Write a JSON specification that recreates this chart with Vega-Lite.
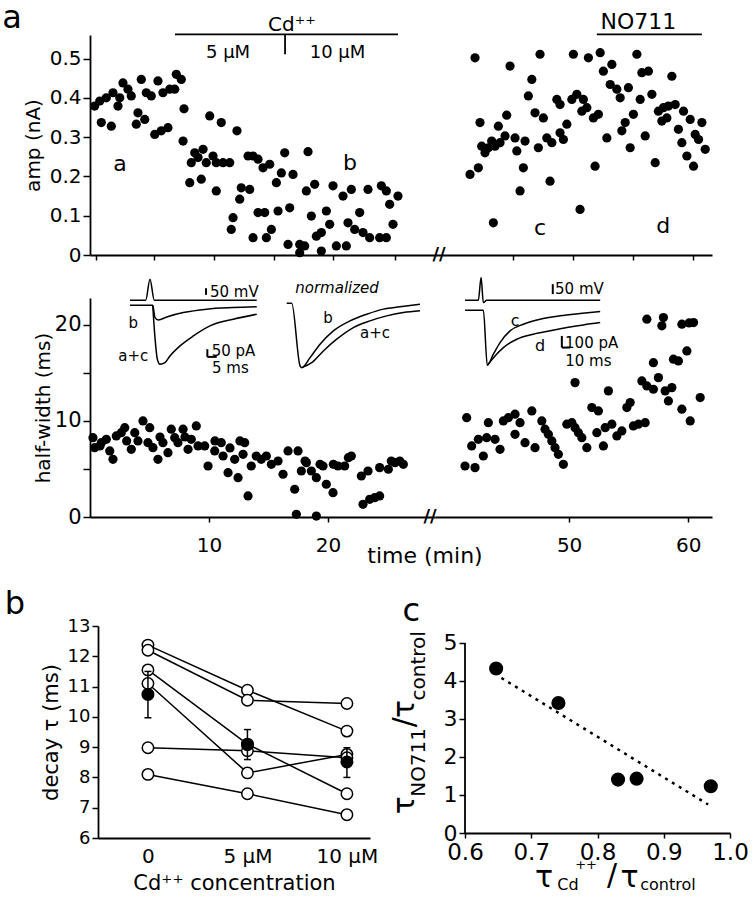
{
  "$schema": "https://vega.github.io/schema/vega-lite/v6.json",
  "background": "white",
  "padding": {"left": 2, "top": 2, "right": 2, "bottom": 2},
  "config": {
    "view": {"stroke": null},
    "font": "DejaVu Sans",
    "axis": {"domainColor": "black", "domainWidth": 1.8, "tickColor": "black", "tickWidth": 1.5, "labelColor": "black", "titleColor": "black", "titleFontWeight": "normal", "grid": false, "labelFont": "DejaVu Sans", "titleFont": "DejaVu Sans", "labelFlush": false, "labelOverlap": false},
    "text": {"font": "DejaVu Sans", "color": "black"}
  },
  "datasets": {
    "ampL": [
      {"t":0.39,"amp":0.379},{"t":0.82,"amp":0.392},{"t":1.37,"amp":0.400},{"t":1.93,"amp":0.413},{"t":2.50,"amp":0.400},{"t":2.77,"amp":0.438},{"t":3.19,"amp":0.422},{"t":3.47,"amp":0.405},{"t":2.35,"amp":0.379},{"t":4.31,"amp":0.447},{"t":4.73,"amp":0.413},{"t":5.15,"amp":0.405},{"t":5.71,"amp":0.443},{"t":6.13,"amp":0.413},{"t":6.70,"amp":0.422},{"t":7.25,"amp":0.460},{"t":7.67,"amp":0.447},{"t":7.12,"amp":0.422},{"t":0.95,"amp":0.337},{"t":1.79,"amp":0.328},{"t":4.03,"amp":0.362},{"t":4.60,"amp":0.345},{"t":3.89,"amp":0.333},{"t":5.44,"amp":0.307},{"t":5.99,"amp":0.316},{"t":6.55,"amp":0.324},{"t":7.90,"amp":0.372},{"t":10.06,"amp":0.354},{"t":11.03,"amp":0.337},{"t":12.35,"amp":0.316},{"t":7.82,"amp":0.290},{"t":8.80,"amp":0.260},{"t":9.50,"amp":0.269},{"t":8.51,"amp":0.235},{"t":9.08,"amp":0.248},{"t":9.77,"amp":0.235},{"t":10.34,"amp":0.252},{"t":10.61,"amp":0.235},{"t":11.18,"amp":0.235},{"t":11.74,"amp":0.235},{"t":8.38,"amp":0.184},{"t":9.35,"amp":0.193},{"t":10.61,"amp":0.163},{"t":12.71,"amp":0.171},{"t":12.58,"amp":0.142},{"t":12.02,"amp":0.095},{"t":11.87,"amp":0.065},{"t":13.28,"amp":0.252},{"t":13.70,"amp":0.252},{"t":14.12,"amp":0.244},{"t":14.54,"amp":0.222},{"t":15.10,"amp":0.231},{"t":16.36,"amp":0.260},{"t":18.32,"amp":0.263},{"t":16.08,"amp":0.209},{"t":17.06,"amp":0.205},{"t":15.66,"amp":0.184},{"t":13.42,"amp":0.167},{"t":18.18,"amp":0.163},{"t":18.88,"amp":0.180},{"t":20.42,"amp":0.176},{"t":21.26,"amp":0.150},{"t":21.96,"amp":0.167},{"t":23.36,"amp":0.167},{"t":24.48,"amp":0.176},{"t":24.90,"amp":0.163},{"t":25.88,"amp":0.150},{"t":25.18,"amp":0.129},{"t":14.12,"amp":0.108},{"t":14.68,"amp":0.108},{"t":15.80,"amp":0.112},{"t":16.78,"amp":0.120},{"t":18.60,"amp":0.099},{"t":19.86,"amp":0.112},{"t":20.14,"amp":0.078},{"t":19.44,"amp":0.057},{"t":19.02,"amp":0.048},{"t":21.68,"amp":0.082},{"t":22.66,"amp":0.108},{"t":22.24,"amp":0.065},{"t":22.94,"amp":0.057},{"t":23.50,"amp":0.044},{"t":24.34,"amp":0.044},{"t":24.90,"amp":0.044},{"t":25.46,"amp":0.078},{"t":13.70,"amp":0.044},{"t":15.24,"amp":0.065},{"t":14.82,"amp":0.044},{"t":16.64,"amp":0.027},{"t":17.62,"amp":0.027},{"t":18.04,"amp":0.023},{"t":17.62,"amp":0.006},{"t":19.44,"amp":0.010},{"t":20.70,"amp":0.023},{"t":21.54,"amp":0.023}
    ],
    "ampR": [
      {"t":41.68,"amp":0.205},{"t":42.10,"amp":0.502},{"t":42.38,"amp":0.222},{"t":42.52,"amp":0.337},{"t":42.66,"amp":0.277},{"t":42.94,"amp":0.260},{"t":43.22,"amp":0.273},{"t":43.50,"amp":0.290},{"t":43.64,"amp":0.082},{"t":43.78,"amp":0.277},{"t":44.06,"amp":0.328},{"t":44.20,"amp":0.286},{"t":44.62,"amp":0.303},{"t":44.76,"amp":0.356},{"t":45.04,"amp":0.481},{"t":45.46,"amp":0.298},{"t":45.61,"amp":0.265},{"t":45.88,"amp":0.163},{"t":46.16,"amp":0.222},{"t":46.30,"amp":0.290},{"t":46.58,"amp":0.405},{"t":46.87,"amp":0.447},{"t":47.14,"amp":0.362},{"t":47.42,"amp":0.273},{"t":47.56,"amp":0.511},{"t":47.84,"amp":0.349},{"t":48.13,"amp":0.298},{"t":48.40,"amp":0.188},{"t":48.55,"amp":0.286},{"t":48.97,"amp":0.396},{"t":49.24,"amp":0.383},{"t":49.24,"amp":0.311},{"t":49.52,"amp":0.294},{"t":49.81,"amp":0.333},{"t":50.23,"amp":0.396},{"t":50.36,"amp":0.511},{"t":50.65,"amp":0.409},{"t":50.92,"amp":0.116},{"t":51.07,"amp":0.366},{"t":51.20,"amp":0.396},{"t":51.49,"amp":0.375},{"t":51.62,"amp":0.502},{"t":52.04,"amp":0.349},{"t":52.18,"amp":0.226},{"t":52.46,"amp":0.358},{"t":52.61,"amp":0.515},{"t":52.88,"amp":0.468},{"t":53.17,"amp":0.298},{"t":53.45,"amp":0.434},{"t":53.59,"amp":0.485},{"t":54.01,"amp":0.422},{"t":54.29,"amp":0.400},{"t":54.43,"amp":0.316},{"t":54.71,"amp":0.337},{"t":54.98,"amp":0.426},{"t":55.13,"amp":0.273},{"t":55.40,"amp":0.358},{"t":55.69,"amp":0.511},{"t":55.97,"amp":0.396},{"t":56.11,"amp":0.464},{"t":56.39,"amp":0.303},{"t":56.66,"amp":0.468},{"t":56.95,"amp":0.409},{"t":57.23,"amp":0.235},{"t":57.50,"amp":0.366},{"t":57.79,"amp":0.341},{"t":57.92,"amp":0.375},{"t":58.34,"amp":0.379},{"t":58.21,"amp":0.349},{"t":58.63,"amp":0.455},{"t":58.91,"amp":0.383},{"t":59.18,"amp":0.320},{"t":59.61,"amp":0.366},{"t":59.47,"amp":0.286},{"t":59.89,"amp":0.252},{"t":60.17,"amp":0.345},{"t":60.45,"amp":0.226},{"t":60.59,"amp":0.307},{"t":60.87,"amp":0.294},{"t":61.15,"amp":0.337},{"t":61.43,"amp":0.269}
    ],
    "hwL": [
      {"t":0.25,"hw":8.26},{"t":0.39,"hw":7.22},{"t":0.95,"hw":7.74},{"t":1.37,"hw":8.09},{"t":1.66,"hw":6.88},{"t":1.93,"hw":6.01},{"t":2.21,"hw":8.44},{"t":2.63,"hw":8.78},{"t":2.92,"hw":9.30},{"t":3.47,"hw":7.05},{"t":3.76,"hw":8.78},{"t":4.03,"hw":7.92},{"t":4.45,"hw":10.00},{"t":5.02,"hw":9.30},{"t":4.87,"hw":7.74},{"t":5.29,"hw":7.22},{"t":5.71,"hw":6.01},{"t":6.13,"hw":7.74},{"t":6.55,"hw":6.70},{"t":6.83,"hw":9.14},{"t":7.12,"hw":8.26},{"t":7.39,"hw":7.74},{"t":7.82,"hw":9.14},{"t":8.24,"hw":7.05},{"t":8.51,"hw":8.09},{"t":8.93,"hw":9.48},{"t":9.08,"hw":7.40},{"t":9.64,"hw":7.40},{"t":9.92,"hw":5.31},{"t":10.48,"hw":6.88},{"t":11.03,"hw":7.74},{"t":11.18,"hw":6.35},{"t":11.60,"hw":4.61},{"t":12.16,"hw":6.01},{"t":12.44,"hw":4.09},{"t":13.00,"hw":7.74},{"t":13.28,"hw":2.19},{"t":12.86,"hw":6.53},{"t":13.55,"hw":5.31},{"t":13.97,"hw":6.35},{"t":14.39,"hw":6.01},{"t":14.82,"hw":6.35},{"t":15.24,"hw":5.49},{"t":15.80,"hw":5.83},{"t":16.22,"hw":4.45},{"t":16.64,"hw":6.88},{"t":17.48,"hw":6.88},{"t":17.20,"hw":2.89},{"t":17.76,"hw":4.79},{"t":18.18,"hw":5.66},{"t":18.60,"hw":4.79},{"t":19.02,"hw":4.09},{"t":19.58,"hw":5.31},{"t":19.86,"hw":3.41},{"t":20.42,"hw":2.53},{"t":20.84,"hw":5.31},{"t":21.40,"hw":5.31},{"t":21.96,"hw":6.35},{"t":22.80,"hw":4.27},{"t":23.36,"hw":4.79},{"t":24.34,"hw":5.14},{"t":25.32,"hw":5.83},{"t":26.03,"hw":5.83},{"t":22.94,"hw":1.32},{"t":23.50,"hw":1.84},{"t":23.92,"hw":2.01},{"t":24.34,"hw":2.19},{"t":17.34,"hw":0.28},{"t":19.02,"hw":0.10},{"t":18.07,"hw":5.83},{"t":19.33,"hw":5.49},{"t":20.45,"hw":5.49},{"t":21.71,"hw":6.18},{"t":25.07,"hw":4.97},{"t":25.63,"hw":5.66},{"t":26.33,"hw":5.49},{"t":0.84,"hw":7.40},{"t":3.08,"hw":7.92},{"t":5.88,"hw":8.33},{"t":7.98,"hw":8.33},{"t":10.50,"hw":7.92},{"t":11.76,"hw":7.19},{"t":12.60,"hw":7.92}
    ],
    "hwR": [
      {"t":41.40,"hw":10.34},{"t":41.26,"hw":5.31},{"t":42.10,"hw":5.14},{"t":41.82,"hw":7.40},{"t":42.38,"hw":8.09},{"t":42.80,"hw":6.35},{"t":43.22,"hw":9.82},{"t":43.08,"hw":8.26},{"t":43.78,"hw":8.09},{"t":44.20,"hw":7.05},{"t":44.48,"hw":10.00},{"t":44.90,"hw":10.34},{"t":45.46,"hw":10.70},{"t":45.88,"hw":9.82},{"t":45.46,"hw":8.61},{"t":46.30,"hw":7.74},{"t":46.87,"hw":11.04},{"t":47.14,"hw":7.22},{"t":47.71,"hw":10.00},{"t":47.98,"hw":9.14},{"t":48.26,"hw":8.61},{"t":48.55,"hw":7.92},{"t":48.82,"hw":7.22},{"t":49.10,"hw":6.53},{"t":49.52,"hw":5.49},{"t":49.81,"hw":9.66},{"t":50.23,"hw":9.82},{"t":50.50,"hw":9.30},{"t":50.78,"hw":8.78},{"t":51.07,"hw":8.26},{"t":51.49,"hw":7.22},{"t":50.50,"hw":13.99},{"t":51.91,"hw":11.39},{"t":52.46,"hw":11.04},{"t":52.33,"hw":8.78},{"t":52.88,"hw":7.40},{"t":53.30,"hw":13.13},{"t":53.03,"hw":9.30},{"t":53.59,"hw":9.66},{"t":54.01,"hw":8.44},{"t":54.43,"hw":8.96},{"t":54.85,"hw":11.39},{"t":55.13,"hw":11.91},{"t":55.40,"hw":9.48},{"t":55.82,"hw":9.66},{"t":56.39,"hw":9.82},{"t":56.11,"hw":14.17},{"t":56.53,"hw":13.65},{"t":57.08,"hw":13.30},{"t":57.50,"hw":14.51},{"t":57.08,"hw":16.07},{"t":58.07,"hw":13.13},{"t":58.34,"hw":12.08},{"t":58.63,"hw":13.47},{"t":59.47,"hw":11.22},{"t":60.17,"hw":10.00},{"t":61.01,"hw":12.43},{"t":58.76,"hw":16.43},{"t":59.18,"hw":16.25},{"t":59.89,"hw":17.29},{"t":56.53,"hw":20.59},{"t":57.92,"hw":20.76},{"t":57.79,"hw":19.90},{"t":59.47,"hw":20.07},{"t":60.45,"hw":20.24},{"t":60.08,"hw":20.20}
    ],
    "insetL": [
      {"trace":"V1","t":3.36,"hw":22.57},{"trace":"V1","t":4.68,"hw":22.57},{"trace":"V1","t":5.04,"hw":24.76},{"trace":"V1","t":5.40,"hw":22.57},{"trace":"V1","t":14.01,"hw":22.57},
      {"trace":"B1","t":3.36,"hw":22.05},{"trace":"B1","t":5.27,"hw":22.05},{"trace":"B1","t":5.46,"hw":20.76},{"trace":"B1","t":5.74,"hw":20.52},{"trace":"B1","t":6.45,"hw":20.83},{"trace":"B1","t":7.84,"hw":21.28},{"trace":"B1","t":9.81,"hw":21.64},{"trace":"B1","t":12.04,"hw":21.80},{"trace":"B1","t":14.01,"hw":21.88},
      {"trace":"AC1","t":5.27,"hw":22.05},{"trace":"AC1","t":5.46,"hw":18.68},{"trace":"AC1","t":5.66,"hw":16.43},{"trace":"AC1","t":5.88,"hw":15.91},{"trace":"AC1","t":6.30,"hw":16.07},{"trace":"AC1","t":6.72,"hw":16.77},{"trace":"AC1","t":7.56,"hw":17.81},{"trace":"AC1","t":8.68,"hw":18.85},{"trace":"AC1","t":10.08,"hw":19.90},{"trace":"AC1","t":12.04,"hw":20.59},{"trace":"AC1","t":14.01,"hw":21.11},
      {"trace":"NB","t":16.53,"hw":22.26},{"trace":"NB","t":16.95,"hw":22.26},{"trace":"NB","t":17.65,"hw":15.73},{"trace":"NB","t":17.79,"hw":15.55},{"trace":"NB","t":18.49,"hw":16.59},{"trace":"NB","t":19.33,"hw":17.99},{"trace":"NB","t":20.45,"hw":19.38},{"trace":"NB","t":21.85,"hw":20.42},{"trace":"NB","t":23.25,"hw":21.11},{"trace":"NB","t":24.65,"hw":21.64},{"trace":"NB","t":26.05,"hw":21.88},{"trace":"NB","t":27.73,"hw":22.16},
      {"trace":"NAC","t":17.79,"hw":15.55},{"trace":"NAC","t":18.63,"hw":16.07},{"trace":"NAC","t":19.61,"hw":17.29},{"trace":"NAC","t":20.73,"hw":18.51},{"trace":"NAC","t":22.13,"hw":19.72},{"trace":"NAC","t":23.53,"hw":20.42},{"trace":"NAC","t":24.93,"hw":20.94},{"trace":"NAC","t":26.33,"hw":21.28},{"trace":"NAC","t":27.73,"hw":21.46}
    ],
    "insetR": [
      {"trace":"V2","t":41.26,"hw":22.57},{"trace":"V2","t":42.38,"hw":22.57},{"trace":"V2","t":42.61,"hw":24.93},{"trace":"V2","t":42.80,"hw":22.32},{"trace":"V2","t":43.08,"hw":22.57},{"trace":"V2","t":52.61,"hw":22.57},
      {"trace":"C2","t":41.26,"hw":21.53},{"trace":"C2","t":42.80,"hw":21.53},{"trace":"C2","t":43.13,"hw":15.80},{"trace":"C2","t":43.64,"hw":16.95},{"trace":"C2","t":44.20,"hw":18.16},{"trace":"C2","t":45.04,"hw":19.38},{"trace":"C2","t":46.16,"hw":20.07},{"trace":"C2","t":47.56,"hw":20.59},{"trace":"C2","t":49.24,"hw":20.94},{"trace":"C2","t":50.92,"hw":21.18},{"trace":"C2","t":52.61,"hw":21.39},
      {"trace":"D2","t":43.13,"hw":15.80},{"trace":"D2","t":43.78,"hw":16.77},{"trace":"D2","t":44.48,"hw":17.64},{"trace":"D2","t":45.61,"hw":18.51},{"trace":"D2","t":47.00,"hw":19.03},{"trace":"D2","t":48.40,"hw":19.38},{"trace":"D2","t":49.81,"hw":19.72},{"trace":"D2","t":51.20,"hw":20.00},{"trace":"D2","t":52.61,"hw":20.24}
    ],
    "bLines": [
      {"s":"1","conc":0,"tau":12.37},{"s":"1","conc":5,"tau":10.88},{"s":"1","conc":10,"tau":9.53},
      {"s":"2","conc":0,"tau":12.2},{"s":"2","conc":5,"tau":10.55},{"s":"2","conc":10,"tau":10.44},
      {"s":"3","conc":0,"tau":11.55},{"s":"3","conc":5,"tau":9.1},{"s":"3","conc":10,"tau":7.46},
      {"s":"4","conc":0,"tau":11.1},{"s":"4","conc":5,"tau":8.15},{"s":"4","conc":10,"tau":8.76},
      {"s":"5","conc":0,"tau":8.98},{"s":"5","conc":5,"tau":8.88},{"s":"5","conc":10,"tau":8.65},
      {"s":"6","conc":0,"tau":8.1},{"s":"6","conc":5,"tau":7.46},{"s":"6","conc":10,"tau":6.77}
    ],
    "bMean": [
      {"conc":0,"tau":10.74,"lo":9.97,"hi":11.5},
      {"conc":5,"tau":9.08,"lo":8.59,"hi":9.58},
      {"conc":10,"tau":8.51,"lo":8.0,"hi":8.98}
    ],
    "cPts": [
      {"rcd":0.647,"rno":4.33},{"rcd":0.741,"rno":3.42},{"rcd":0.831,"rno":1.405},{"rcd":0.859,"rno":1.43},{"rcd":0.971,"rno":1.23}
    ],
    "cFit": [
      {"rcd":0.655,"rno":4.08},{"rcd":0.967,"rno":0.75}
    ]
  },
  "vconcat": [
    {
      "width": 622, "height": 220,
      "resolve": {"scale": {"x": "independent"}, "axis": {"x": "independent"}},
      "layer": [
        {
          "layer": [
            {"data": {"name": "ampL"}, "mark": {"type": "circle", "size": 85, "color": "black", "opacity": 1},
             "encoding": {
               "x": {"field": "t", "type": "quantitative", "scale": {"domain": [0, 28.99], "range": [0, 345], "nice": false, "zero": false}, "axis": {"orient": "bottom", "values": [0.5, 5.4, 10.4, 15.45, 20.4, 25.6], "labels": false, "title": null, "tickSize": 5}},
               "y": {"field": "amp", "type": "quantitative", "scale": {"domain": [0, 0.56], "nice": false, "zero": false}, "axis": {"values": [0, 0.1, 0.2, 0.3, 0.4, 0.5], "labelExpr": "datum.value == 0 ? '0' : format(datum.value, '.1f')", "title": "amp (nA)", "titleFontSize": 20, "labelFontSize": 20, "tickSize": 7, "labelPadding": 2, "titlePadding": 6, "labelOverlap": false}}
             }},
            {"data": {"values": [{"t": 7.14, "t2": 25.88, "amp": 0.5615, "amp2": 0.5615}, {"t": 16.39, "t2": 16.39, "amp": 0.5615, "amp2": 0.511}]},
             "mark": {"type": "rule", "color": "black", "strokeWidth": 1.8},
             "encoding": {"x": {"field": "t", "type": "quantitative"}, "x2": {"field": "t2"}, "y": {"field": "amp", "type": "quantitative"}, "y2": {"field": "amp2"}}},
            {"data": {"values": [{"t": 16.97, "amp": 0.57, "label": "Cd⁺⁺"}]},
             "mark": {"type": "text", "fontSize": 20, "align": "center", "baseline": "alphabetic"},
             "encoding": {"x": {"field": "t", "type": "quantitative"}, "y": {"field": "amp", "type": "quantitative"}, "text": {"field": "label"}}},
            {"data": {"values": [{"t": 11.6, "amp": 0.502, "label": "5 μM"}, {"t": 20.8, "amp": 0.502, "label": "10 μM"}]},
             "mark": {"type": "text", "fontSize": 18, "align": "center", "baseline": "alphabetic"},
             "encoding": {"x": {"field": "t", "type": "quantitative"}, "y": {"field": "amp", "type": "quantitative"}, "text": {"field": "label"}}},
            {"data": {"values": [{"t": 2.52, "amp": 0.231, "label": "a"}, {"t": 21.85, "amp": 0.235, "label": "b"}]},
             "mark": {"type": "text", "fontSize": 22, "align": "center", "baseline": "middle"},
             "encoding": {"x": {"field": "t", "type": "quantitative"}, "y": {"field": "amp", "type": "quantitative"}, "text": {"field": "label"}}},
            {"data": {"values": [{"t": -6.55, "amp": 0.577, "label": "a"}]},
             "mark": {"type": "text", "fontSize": 32, "align": "center", "baseline": "alphabetic"},
             "encoding": {"x": {"field": "t", "type": "quantitative"}, "y": {"field": "amp", "type": "quantitative"}, "text": {"field": "label"}}}
          ]
        },
        {
          "layer": [
            {"data": {"name": "ampR"}, "mark": {"type": "circle", "size": 85, "color": "black", "opacity": 1},
             "encoding": {
               "x": {"field": "t", "type": "quantitative", "scale": {"domain": [38.74, 62.0], "range": [345, 622], "nice": false, "zero": false}, "axis": {"orient": "bottom", "values": [45.3, 50.35, 55.4, 60.4], "labels": false, "title": null, "tickSize": 5}},
               "y": {"field": "amp", "type": "quantitative"}
             }},
            {"data": {"values": [{"t": 52.33, "t2": 61.15, "amp": 0.5615}]},
             "mark": {"type": "rule", "color": "black", "strokeWidth": 1.8},
             "encoding": {"x": {"field": "t", "type": "quantitative"}, "x2": {"field": "t2"}, "y": {"field": "amp", "type": "quantitative"}}},
            {"data": {"values": [{"t": 55.82, "amp": 0.575, "label": "NO711"}]},
             "mark": {"type": "text", "fontSize": 22, "align": "center", "baseline": "alphabetic"},
             "encoding": {"x": {"field": "t", "type": "quantitative"}, "y": {"field": "amp", "type": "quantitative"}, "text": {"field": "label"}}},
            {"data": {"values": [{"t": 47.56, "amp": 0.069, "label": "c"}, {"t": 57.9, "amp": 0.074, "label": "d"}]},
             "mark": {"type": "text", "fontSize": 22, "align": "center", "baseline": "middle"},
             "encoding": {"x": {"field": "t", "type": "quantitative"}, "y": {"field": "amp", "type": "quantitative"}, "text": {"field": "label"}}},
            {"data": {"values": [{"t": 39.08, "amp": 0, "label": "//"}]},
             "mark": {"type": "text", "fontSize": 18, "fontWeight": "bold", "align": "center", "baseline": "middle"},
             "encoding": {"x": {"field": "t", "type": "quantitative"}, "y": {"field": "amp", "type": "quantitative"}, "text": {"field": "label"}}}
          ]
        }
      ]
    },
    {
      "width": 622, "height": 219,
      "resolve": {"scale": {"x": "independent"}, "axis": {"x": "independent"}},
      "layer": [
        {
          "layer": [
            {"data": {"name": "hwL"}, "mark": {"type": "circle", "size": 85, "color": "black", "opacity": 1},
             "encoding": {
               "x": {"field": "t", "type": "quantitative", "scale": {"domain": [0, 28.99], "range": [0, 345], "nice": false, "zero": false}, "axis": {"orient": "bottom", "values": [10, 20], "labelFontSize": 20, "tickSize": 5, "labelPadding": 13, "title": null}},
               "y": {"field": "hw", "type": "quantitative", "scale": {"domain": [0, 22.8], "nice": false, "zero": false}, "axis": {"values": [0, 5, 10, 15, 20], "labelExpr": "datum.value % 10 == 0 ? datum.label : ''", "title": "half-width (ms)", "titleFontSize": 20, "labelFontSize": 21, "tickSize": 7, "labelPadding": 2, "titlePadding": 1, "labelOverlap": false}}
             }},
            {"data": {"name": "insetL"}, "mark": {"type": "line", "color": "black", "strokeWidth": 1.5, "interpolate": "monotone"},
             "encoding": {"x": {"field": "t", "type": "quantitative"}, "y": {"field": "hw", "type": "quantitative"}, "detail": {"field": "trace"}}},
            {"data": {"values": [{"t": 9.75, "t2": 9.75, "hw": 23.82, "hw2": 23.13}, {"t": 9.86, "t2": 9.86, "hw": 17.47, "hw2": 16.67}, {"t": 9.86, "t2": 10.65, "hw": 16.67, "hw2": 16.67}]},
             "mark": {"type": "rule", "color": "black", "strokeWidth": 2},
             "encoding": {"x": {"field": "t", "type": "quantitative"}, "x2": {"field": "t2"}, "y": {"field": "hw", "type": "quantitative"}, "y2": {"field": "hw2"}}},
            {"data": {"values": [{"t": 10.08, "hw": 23.47, "label": "50 mV"}, {"t": 10.23, "hw": 17.29, "label": "50 pA"}, {"t": 10.25, "hw": 15.55, "label": "5 ms"}]},
             "mark": {"type": "text", "fontSize": 15, "align": "left", "baseline": "middle"},
             "encoding": {"x": {"field": "t", "type": "quantitative"}, "y": {"field": "hw", "type": "quantitative"}, "text": {"field": "label"}}},
            {"data": {"values": [{"t": 3.64, "hw": 20.21, "label": "b"}, {"t": 3.64, "hw": 16.77, "label": "a+c"}, {"t": 20.0, "hw": 20.73, "label": "b"}, {"t": 23.95, "hw": 19.17, "label": "a+c"}]},
             "mark": {"type": "text", "fontSize": 15, "align": "center", "baseline": "middle"},
             "encoding": {"x": {"field": "t", "type": "quantitative"}, "y": {"field": "hw", "type": "quantitative"}, "text": {"field": "label"}}},
            {"data": {"values": [{"t": 20.76, "hw": 23.85, "label": "normalized"}]},
             "mark": {"type": "text", "fontSize": 15, "fontStyle": "italic", "align": "center", "baseline": "middle"},
             "encoding": {"x": {"field": "t", "type": "quantitative"}, "y": {"field": "hw", "type": "quantitative"}, "text": {"field": "label"}}},
            {"data": {"values": [{"t": 28.15, "hw": -4.06, "label": "time (min)"}]},
             "mark": {"type": "text", "fontSize": 22, "align": "center", "baseline": "middle"},
             "encoding": {"x": {"field": "t", "type": "quantitative"}, "y": {"field": "hw", "type": "quantitative"}, "text": {"field": "label"}}}
          ]
        },
        {
          "layer": [
            {"data": {"name": "hwR"}, "mark": {"type": "circle", "size": 85, "color": "black", "opacity": 1},
             "encoding": {
               "x": {"field": "t", "type": "quantitative", "scale": {"domain": [38.74, 62.0], "range": [345, 622], "nice": false, "zero": false}, "axis": {"orient": "bottom", "values": [50, 60], "labelFontSize": 20, "tickSize": 5, "labelPadding": 13, "title": null}},
               "y": {"field": "hw", "type": "quantitative"}
             }},
            {"data": {"name": "insetR"}, "mark": {"type": "line", "color": "black", "strokeWidth": 1.5, "interpolate": "monotone"},
             "encoding": {"x": {"field": "t", "type": "quantitative"}, "y": {"field": "hw", "type": "quantitative"}, "detail": {"field": "trace"}}},
            {"data": {"values": [{"t": 48.63, "t2": 48.63, "hw": 24.24, "hw2": 23.2}, {"t": 49.39, "t2": 49.39, "hw": 18.85, "hw2": 17.64}, {"t": 49.39, "t2": 50.08, "hw": 17.64, "hw2": 17.64}]},
             "mark": {"type": "rule", "color": "black", "strokeWidth": 2},
             "encoding": {"x": {"field": "t", "type": "quantitative"}, "x2": {"field": "t2"}, "y": {"field": "hw", "type": "quantitative"}, "y2": {"field": "hw2"}}},
            {"data": {"values": [{"t": 48.82, "hw": 23.75, "label": "50 mV"}, {"t": 49.66, "hw": 18.16, "label": "100 pA"}]},
             "mark": {"type": "text", "fontSize": 15, "align": "left", "baseline": "middle"},
             "encoding": {"x": {"field": "t", "type": "quantitative"}, "y": {"field": "hw", "type": "quantitative"}, "text": {"field": "label"}}},
            {"data": {"values": [{"t": 51.62, "hw": 16.25, "label": "10 ms"}]},
             "mark": {"type": "text", "fontSize": 15, "align": "center", "baseline": "middle"},
             "encoding": {"x": {"field": "t", "type": "quantitative"}, "y": {"field": "hw", "type": "quantitative"}, "text": {"field": "label"}}},
            {"data": {"values": [{"t": 45.46, "hw": 20.42, "label": "c"}, {"t": 47.56, "hw": 17.81, "label": "d"}]},
             "mark": {"type": "text", "fontSize": 16, "align": "center", "baseline": "middle"},
             "encoding": {"x": {"field": "t", "type": "quantitative"}, "y": {"field": "hw", "type": "quantitative"}, "text": {"field": "label"}}},
            {"data": {"values": [{"t": 38.32, "hw": 0, "label": "//"}]},
             "mark": {"type": "text", "fontSize": 18, "fontWeight": "bold", "align": "center", "baseline": "middle"},
             "encoding": {"x": {"field": "t", "type": "quantitative"}, "y": {"field": "hw", "type": "quantitative"}, "text": {"field": "label"}}}
          ]
        }
      ]
    },
    {
      "width": 640, "height": 278,
      "resolve": {"scale": {"x": "independent", "y": "independent"}, "axis": {"x": "independent", "y": "independent"}},
      "layer": [
        {
          "layer": [
            {"data": {"name": "bLines"}, "mark": {"type": "line", "color": "black", "strokeWidth": 1.5},
             "encoding": {
               "x": {"field": "conc", "type": "quantitative", "scale": {"domain": [-2.51, 11.16], "range": [8, 280], "nice": false, "zero": false}, "axis": {"orient": "bottom", "values": [0, 5, 10], "labelExpr": "datum.value == 0 ? '0' : datum.value + ' μM'", "ticks": false, "labelPadding": 8, "labelFontSize": 20, "title": "Cd⁺⁺ concentration", "titleFontSize": 21, "titlePadding": 6, "labelOverlap": false}},
               "y": {"field": "tau", "type": "quantitative", "scale": {"domain": [6, 13], "range": [278, 66], "nice": false, "zero": false}, "axis": {"orient": "left", "offset": -8, "values": [6, 7, 8, 9, 10, 11, 12, 13], "tickCount": 8, "labelOverlap": false, "labelBound": false, "labelSeparation": 0, "labelFontSize": 18, "tickSize": 6, "labelPadding": 2, "title": "decay τ (ms)", "titleFontSize": 21, "titlePadding": 6}},
               "detail": {"field": "s"}
             }},
            {"data": {"name": "bLines"}, "mark": {"type": "point", "shape": "circle", "size": 130, "filled": true, "fill": "white", "stroke": "black", "strokeWidth": 1.5, "opacity": 1},
             "encoding": {"x": {"field": "conc", "type": "quantitative"}, "y": {"field": "tau", "type": "quantitative", "axis": {"orient": "left", "offset": -8, "values": [6, 7, 8, 9, 10, 11, 12, 13], "tickCount": 8, "labelOverlap": false, "labelBound": false, "labelSeparation": 0, "labelFontSize": 18, "tickSize": 6, "labelPadding": 2, "title": "decay τ (ms)", "titleFontSize": 21, "titlePadding": 6}}}},
            {"data": {"name": "bMean"}, "mark": {"type": "rule", "color": "black", "strokeWidth": 1.5},
             "encoding": {"x": {"field": "conc", "type": "quantitative"}, "y": {"field": "lo", "type": "quantitative"}, "y2": {"field": "hi"}}},
            {"data": {"name": "bMean"}, "mark": {"type": "tick", "orient": "horizontal", "size": 7, "thickness": 1.5, "color": "black", "opacity": 1},
             "encoding": {"x": {"field": "conc", "type": "quantitative"}, "y": {"field": "lo", "type": "quantitative"}}},
            {"data": {"name": "bMean"}, "mark": {"type": "tick", "orient": "horizontal", "size": 7, "thickness": 1.5, "color": "black", "opacity": 1},
             "encoding": {"x": {"field": "conc", "type": "quantitative"}, "y": {"field": "hi", "type": "quantitative"}}},
            {"data": {"name": "bMean"}, "mark": {"type": "circle", "size": 170, "color": "black", "opacity": 1},
             "encoding": {"x": {"field": "conc", "type": "quantitative"}, "y": {"field": "tau", "type": "quantitative"}}},
            {"data": {"values": [{"conc": -6.68, "tau": 13.4, "label": "b"}]},
             "mark": {"type": "text", "fontSize": 32, "align": "center", "baseline": "alphabetic"},
             "encoding": {"x": {"field": "conc", "type": "quantitative"}, "y": {"field": "tau", "type": "quantitative"}, "text": {"field": "label"}}}
          ]
        },
        {
          "layer": [
            {"data": {"values": [{"rcd": 0.6, "rno": 0, "rno2": 5}]},
             "mark": {"type": "rule", "color": "black", "strokeWidth": 1.8},
             "encoding": {"x": {"field": "rcd", "type": "quantitative"}, "y": {"field": "rno", "type": "quantitative"}, "y2": {"field": "rno2"}}},
            {"data": {"name": "cFit"}, "mark": {"type": "line", "color": "black", "strokeWidth": 2.5, "strokeDash": [3, 5]},
             "encoding": {"x": {"field": "rcd", "type": "quantitative"}, "y": {"field": "rno", "type": "quantitative"}}},
            {"data": {"name": "cPts"}, "mark": {"type": "circle", "size": 200, "color": "black", "opacity": 1},
             "encoding": {
               "x": {"field": "rcd", "type": "quantitative", "scale": {"domain": [0.6, 1.0], "range": [375, 640], "nice": false, "zero": false}, "axis": {"orient": "bottom", "offset": -5, "values": [0.6, 0.7, 0.8, 0.9, 1.0], "format": ".1f", "labelFontSize": 23, "tickSize": 5, "labelPadding": 3, "title": null, "labelOverlap": false}},
               "y": {"field": "rno", "type": "quantitative", "scale": {"domain": [0, 5.447], "range": [273, 66], "nice": false, "zero": false}, "axis": {"orient": "left", "offset": -375, "values": [0, 1, 2, 3, 4, 5], "domain": false, "labelFontSize": 22, "tickSize": 6, "labelPadding": 2, "title": null, "labelOverlap": false}}
             }},
            {"data": {"values": [{"rcd": 0.7192, "rno": -1.19, "label": "τ"}, {"rcd": 0.8219, "rno": -1.14, "label": "/"}, {"rcd": 0.8483, "rno": -1.19, "label": "τ"}]},
             "mark": {"type": "text", "fontSize": 30, "align": "center", "baseline": "middle"},
             "encoding": {"x": {"field": "rcd", "type": "quantitative"}, "y": {"field": "rno", "type": "quantitative"}, "text": {"field": "label"}}},
            {"data": {"values": [{"rcd": 0.7555, "rno": -1.38, "label": "Cd"}, {"rcd": 0.9064, "rno": -1.38, "label": "control"}]},
             "mark": {"type": "text", "fontSize": 16, "align": "center", "baseline": "middle"},
             "encoding": {"x": {"field": "rcd", "type": "quantitative"}, "y": {"field": "rno", "type": "quantitative"}, "text": {"field": "label"}}},
            {"data": {"values": [{"rcd": 0.7827, "rno": -0.85, "label": "++"}]},
             "mark": {"type": "text", "fontSize": 13, "align": "center", "baseline": "middle"},
             "encoding": {"x": {"field": "rcd", "type": "quantitative"}, "y": {"field": "rno", "type": "quantitative"}, "text": {"field": "label"}}},
            {"data": {"values": [{"rcd": 0.5094, "rno": 0.734, "label": "τ"}, {"rcd": 0.5094, "rno": 2.913, "label": "/"}, {"rcd": 0.5094, "rno": 3.261, "label": "τ"}]},
             "mark": {"type": "text", "fontSize": 30, "angle": -90, "align": "center", "baseline": "middle"},
             "encoding": {"x": {"field": "rcd", "type": "quantitative"}, "y": {"field": "rno", "type": "quantitative"}, "text": {"field": "label"}}},
            {"data": {"values": [{"rcd": 0.5306, "rno": 1.858, "label": "NO711"}, {"rcd": 0.5306, "rno": 4.4, "label": "control"}]},
             "mark": {"type": "text", "fontSize": 20, "angle": -90, "align": "center", "baseline": "middle"},
             "encoding": {"x": {"field": "rcd", "type": "quantitative"}, "y": {"field": "rno", "type": "quantitative"}, "text": {"field": "label"}}},
            {"data": {"values": [{"rcd": 0.519, "rno": 5.57, "label": "c"}]},
             "mark": {"type": "text", "fontSize": 32, "align": "center", "baseline": "alphabetic"},
             "encoding": {"x": {"field": "rcd", "type": "quantitative"}, "y": {"field": "rno", "type": "quantitative"}, "text": {"field": "label"}}}
          ]
        }
      ]
    }
  ],
  "spacing": 43, "bounds": "flush"
}
